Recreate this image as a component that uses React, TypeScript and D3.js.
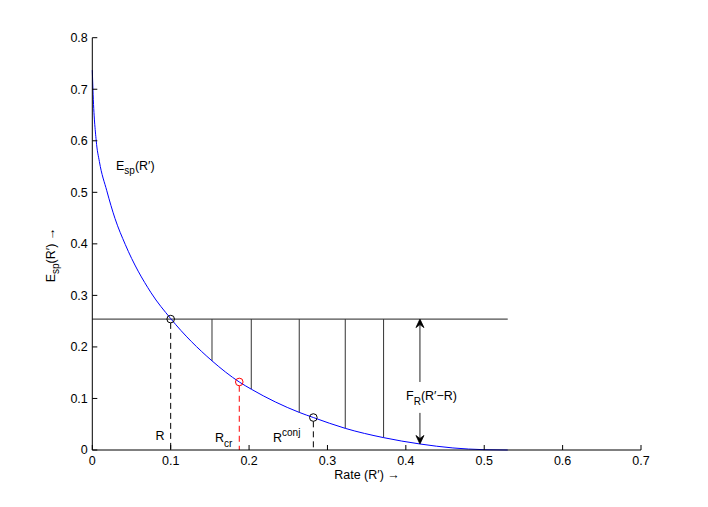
import React from 'react';
import * as d3 from 'd3';

// Sphere-packing exponent curve
const curveR = [0, 0.0008, 0.005, 0.009, 0.0185, 0.029, 0.042, 0.075, 0.1, 0.1527, 0.1875, 0.2028, 0.264, 0.282, 0.3227, 0.3716, 0.418, 0.46, 0.5, 0.53];
const curveE = [0.737, 0.70, 0.60, 0.56, 0.503, 0.449, 0.399, 0.305, 0.255, 0.173, 0.132, 0.118, 0.073, 0.063, 0.042, 0.024, 0.0117, 0.004, 0.0006, 0];

const xTicks = [0, 0.1, 0.2, 0.3, 0.4, 0.5, 0.6, 0.7];
const yTicks = [0, 0.1, 0.2, 0.3, 0.4, 0.5, 0.6, 0.7, 0.8];

// Markers
const rateR = 0.1;
const levelE = 0.254;
const critR = 0.1875;
const critE = 0.132;
const conjR = 0.282;
const conjE = 0.063;
const levelEndR = 0.53;

// Vertical hatch lines between the level line and the curve
const hatchR = [0.1527, 0.2028, 0.264, 0.3227, 0.3716];
const hatchE = [0.173, 0.118, 0.073, 0.042, 0.024];

// Double arrow
const arrowR = 0.418;
const arrowBottomE = 0.0117;
const arrowGapTopE = 0.132;
const arrowGapBottomE = 0.072;

const W = 708;
const H = 507;
const FONT = '"Liberation Sans", Arial, Helvetica, sans-serif';

export default function App() {
  const x = d3.scaleLinear().domain([0, 0.7]).range([92.3, 641]);
  const y = d3.scaleLinear().domain([0, 0.8]).range([450, 37.7]);

  const pts: [number, number][] = curveR.map((r, i) => [r, curveE[i]]);
  const line = d3
    .line<[number, number]>()
    .x((d) => x(d[0]))
    .y((d) => y(d[1]))
    .curve(d3.curveMonotoneX);

  const tickLen = 5;
  const ax = x(arrowR);
  const topTip = y(levelE);
  const botTip = y(arrowBottomE);
  const headLen = 8.5;
  const headHalf = 4;
  const notch = 5.5;
  const upHead = `M${ax},${topTip} L${ax - headHalf},${topTip + headLen} L${ax},${topTip + notch} L${ax + headHalf},${topTip + headLen} Z`;
  const downHead = `M${ax},${botTip} L${ax - headHalf},${botTip - headLen} L${ax},${botTip - notch} L${ax + headHalf},${botTip - headLen} Z`;
  const mr = 3.8;

  return (
    <svg
      width={W}
      height={H}
      style={{ position: 'absolute', left: 0, top: 0, background: '#fff' }}
      fontFamily={FONT}
    >
      <rect x={0} y={0} width={W} height={H} fill="#fff" />

      {/* level line */}
      <line x1={x(0)} x2={x(levelEndR)} y1={y(levelE)} y2={y(levelE)} stroke="#222" strokeWidth={1} />

      {/* hatch lines */}
      {hatchR.map((r, i) => (
        <line key={i} x1={x(r)} x2={x(r)} y1={y(levelE)} y2={y(hatchE[i])} stroke="#333" strokeWidth={1} />
      ))}

      {/* dashed drop lines */}
      <line x1={x(rateR)} x2={x(rateR)} y1={y(levelE) + mr} y2={y(0)} stroke="#000" strokeWidth={1} strokeDasharray="6,4" />
      <line x1={x(critR)} x2={x(critR)} y1={y(critE) + mr} y2={y(0)} stroke="#ff0000" strokeWidth={1} strokeDasharray="6,4" />
      <line x1={x(conjR)} x2={x(conjR)} y1={y(conjE) + mr} y2={y(0)} stroke="#000" strokeWidth={1} strokeDasharray="6,4" />

      {/* curve */}
      <path d={line(pts) || ''} fill="none" stroke="#0000ff" strokeWidth={1} />

      {/* markers */}
      <circle cx={x(rateR)} cy={y(levelE)} r={mr} fill="none" stroke="#000" strokeWidth={1} />
      <circle cx={x(critR)} cy={y(critE)} r={mr} fill="none" stroke="#ff0000" strokeWidth={1} />
      <circle cx={x(conjR)} cy={y(conjE)} r={mr} fill="none" stroke="#000" strokeWidth={1} />

      {/* double arrow */}
      <line x1={ax} x2={ax} y1={topTip + notch} y2={y(arrowGapTopE)} stroke="#222" strokeWidth={1} />
      <line x1={ax} x2={ax} y1={y(arrowGapBottomE)} y2={botTip - notch} stroke="#222" strokeWidth={1} />
      <path d={upHead} fill="#000" stroke="#000" strokeWidth={0.8} strokeLinejoin="miter" />
      <path d={downHead} fill="#000" stroke="#000" strokeWidth={0.8} strokeLinejoin="miter" />

      {/* axes */}
      <line x1={x(0)} x2={x(0.7)} y1={y(0)} y2={y(0)} stroke="#000" strokeWidth={1} />
      <line x1={x(0)} x2={x(0)} y1={y(0)} y2={y(0.8)} stroke="#000" strokeWidth={1} />
      {xTicks.map((t) => (
        <g key={'x' + t}>
          <line x1={x(t)} x2={x(t)} y1={y(0)} y2={y(0) - tickLen} stroke="#000" strokeWidth={1} />
          <text x={x(t)} y={y(0) + 15} textAnchor="middle" fontSize={12.5} fill="#000">
            {t === 0 ? '0' : String(t)}
          </text>
        </g>
      ))}
      {yTicks.map((t) => (
        <g key={'y' + t}>
          <line x1={x(0)} x2={x(0) + tickLen} y1={y(t)} y2={y(t)} stroke="#000" strokeWidth={1} />
          <text x={x(0) - 4.5} y={y(t)} dy="0.35em" textAnchor="end" fontSize={12.5} fill="#000">
            {t === 0 ? '0' : String(t)}
          </text>
        </g>
      ))}

      {/* axis labels */}
      <text x={367} y={479} textAnchor="middle" fontSize={12.5} fill="#000">
        Rate (R′) →
      </text>
      <text transform="translate(55,255) rotate(-90)" textAnchor="middle" fontSize={12.5} fill="#000">
        E<tspan fontSize={10} dy={4}>sp</tspan>
        <tspan dy={-4}>(R′) →</tspan>
      </text>

      {/* annotations */}
      <text x={116} y={170} fontSize={12.5} fill="#000">
        E<tspan fontSize={10} dy={4}>sp</tspan>
        <tspan dy={-4}>(R′)</tspan>
      </text>
      <text x={155.5} y={440} fontSize={12.5} fill="#000">R</text>
      <text x={215} y={442} fontSize={12.5} fill="#000">
        R<tspan fontSize={10} dy={5}>cr</tspan>
      </text>
      <text x={273} y={442} fontSize={12.5} fill="#000">
        R<tspan fontSize={10} dy={-6}>conj</tspan>
      </text>
      <text x={406} y={400} fontSize={12.5} fill="#000">
        F<tspan fontSize={10} dy={5}>R</tspan>
        <tspan dy={-5}>(R′−R)</tspan>
      </text>
    </svg>
  );
}
